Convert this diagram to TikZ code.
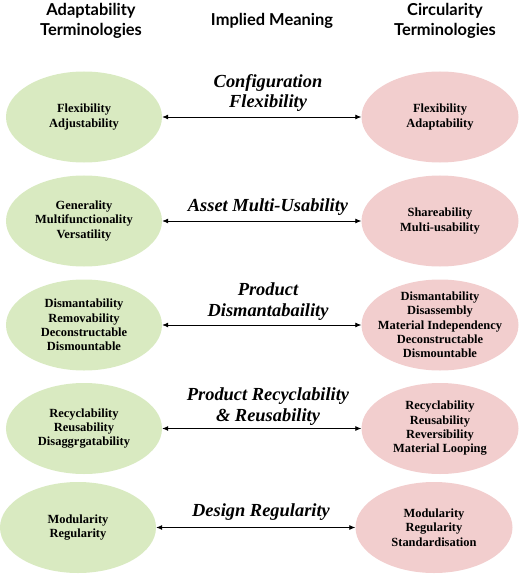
\documentclass[tikz,border=0pt]{standalone}
\usepackage{fontspec}
\setmainfont{Liberation Serif}
\newfontfamily\hdrfont{Lato}
\usetikzlibrary{shapes.geometric,arrows.meta}
\definecolor{adgreen}{HTML}{D9EAC1}
\definecolor{cirpink}{HTML}{F2CECE}
\tikzset{
  x=1bp, y=-1bp,
  greenell/.style={ellipse, fill=adgreen, draw=none, minimum width=156bp, minimum height=91bp, inner sep=0pt},
  pinkell/.style={ellipse, fill=cirpink, draw=none, minimum width=157bp, minimum height=91bp, inner sep=0pt},
  elltext/.style={align=center, font=\bfseries\fontsize{12.5}{14.4}\selectfont, inner sep=0pt},
  meaning/.style={align=center, font=\bfseries\itshape\fontsize{18.5}{21}\selectfont, inner sep=0pt},
  header/.style={align=center, font=\hdrfont\bfseries\fontsize{16.5}{20}\selectfont, inner sep=0pt},
  link/.style={line width=0.8pt, {Latex[length=6pt,width=5pt]}-{Latex[length=6pt,width=5pt]}}
}
\begin{document}
\begin{tikzpicture}
\useasboundingbox (0,0) rectangle (520,574);
% headers
\node[header] (h1) at (91,21) {Adaptability\\Terminologies};
\node[header] (h2) at (272,21) {Implied Meaning};
\node[header] (h3) at (445,21) {Circularity\\Terminologies};
% row 1
\node[greenell] (l1) at (84,117) {};
\node[pinkell] (r1) at (440,117) {};
\node[elltext] (lt1) at (l1.center) {Flexibility\\Adjustability};
\node[elltext] (rt1) at (r1.center) {Flexibility\\Adaptability};
\draw[link] (l1) -- (r1);
\node[meaning] (m1) at (268,93) {Configuration\\Flexibility};
% row 2
\node[greenell] (l2) at (84,221) {};
\node[pinkell] (r2) at (440,221) {};
\node[elltext] (lt2) at (l2.center) {Generality\\Multifunctionality\\Versatility};
\node[elltext] (rt2) at (r2.center) {Shareability\\Multi-usability};
\draw[link] (l2) -- (r2);
\node[meaning] (m2) at (268,207) {Asset Multi-Usability};
% row 3
\node[greenell] (l3) at (84,325) {};
\node[pinkell] (r3) at (440,325) {};
\node[elltext] (lt3) at (l3.center) {Dismantability\\Removability\\Deconstructable\\Dismountable};
\node[elltext] (rt3) at (r3.center) {Dismantability\\Disassembly\\Material Independency\\Deconstructable\\Dismountable};
\draw[link] (l3) -- (r3);
\node[meaning] (m3) at (268,301.5) {Product\\Dismantabaility};
% row 4
\node[greenell] (l4) at (84,428.5) {};
\node[pinkell] (r4) at (440,428.5) {};
\node[elltext] (lt4) at (l4.center) {Recyclability\\Reusability\\Disaggrgatability};
\node[elltext] (rt4) at (r4.center) {Recyclability\\Reusability\\Reversibility\\Material Looping};
\draw[link] (l4) -- (r4);
\node[meaning] (m4) at (268,406.5) {Product Recyclability\\\& Reusability};
% row 5
\node[greenell] (l5) at (78,527.5) {};
\node[pinkell] (r5) at (434,527.5) {};
\node[elltext] (lt5) at (l5.center) {Modularity\\Regularity};
\node[elltext] (rt5) at (r5.center) {Modularity\\Regularity\\Standardisation};
\draw[link] (l5) -- (r5);
\node[meaning] (m5) at (261,512) {Design Regularity};
\end{tikzpicture}
\end{document}
